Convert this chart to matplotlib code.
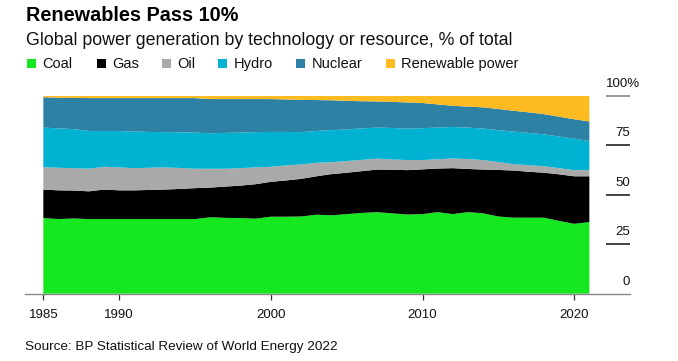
import matplotlib
matplotlib.use("Agg")
import matplotlib.pyplot as plt
from matplotlib.patches import Rectangle

plt.rcParams['font.family'] = ['Liberation Sans', 'DejaVu Sans']

# DATA: share of global power generation, % of total
years = list(range(1985, 2022))
coal = [38.2, 37.7, 38.0, 37.7, 37.7, 37.7, 37.7, 37.7, 37.7, 37.7,
        37.7, 38.6, 38.3, 38.2, 37.9, 38.9, 38.9, 39.0, 39.9, 39.6,
        40.2, 40.8, 41.2, 40.6, 40.0, 40.2, 41.2, 40.2, 41.2, 40.6,
        39.0, 38.4, 38.4, 38.4, 36.8, 35.3, 36.2]
gas = [14.4, 14.5, 14.1, 14.0, 14.9, 14.5, 14.5, 14.7, 14.9, 15.2,
       15.6, 15.0, 15.8, 16.4, 17.4, 17.6, 18.3, 19.0, 19.4, 20.8,
       20.9, 21.1, 21.5, 22.0, 22.4, 22.6, 22.0, 23.2, 21.8, 22.1,
       23.5, 23.8, 23.2, 22.7, 23.5, 24.0, 23.1]
oil = [11.3, 11.4, 11.3, 11.4, 11.5, 11.6, 11.2, 11.2, 11.2, 10.6,
       9.8, 9.5, 9.0, 8.8, 8.5, 7.6, 7.6, 7.3, 6.8, 6.0,
       5.9, 5.7, 5.5, 5.2, 5.1, 4.7, 4.7, 4.9, 5.0, 4.8,
       4.0, 3.2, 3.3, 3.3, 3.1, 3.1, 3.1]
hydro = [20.0, 19.9, 19.7, 19.1, 18.1, 18.4, 18.5, 18.1, 17.8, 18.0,
         18.3, 17.9, 18.1, 18.0, 17.8, 17.6, 16.9, 16.3, 16.1, 16.2,
         16.0, 15.9, 15.7, 15.9, 15.9, 16.1, 16.0, 15.9, 15.9, 15.9,
         16.1, 16.5, 16.3, 16.1, 16.0, 15.9, 14.7]
nuclear = [15.3, 15.5, 15.8, 16.6, 16.6, 16.6, 16.9, 17.1, 17.2, 17.3,
           17.4, 17.3, 17.1, 16.9, 16.7, 16.6, 16.4, 16.3, 15.6, 15.1,
           14.4, 13.7, 13.2, 13.2, 13.2, 12.7, 11.7, 10.7, 10.6, 10.7,
           10.7, 10.5, 10.4, 10.2, 10.0, 9.8, 9.9]
renewable = [0.8, 1.0, 1.1, 1.2, 1.2, 1.2, 1.2, 1.2, 1.2, 1.2,
             1.2, 1.7, 1.7, 1.7, 1.7, 1.7, 1.9, 2.1, 2.2, 2.3,
             2.6, 2.8, 2.9, 3.1, 3.4, 3.7, 4.4, 5.1, 5.5, 5.9,
             6.7, 7.6, 8.4, 9.3, 10.6, 11.9, 13.0]

labels = ["Coal", "Gas", "Oil", "Hydro", "Nuclear", "Renewable power"]
colors = ["#15e81f", "#000000", "#a9a9a9", "#00b2d1", "#2d81a5", "#fdbb21"]
xticks = [1985, 1990, 2000, 2010, 2020]
yticks = [0, 25, 50, 75, 100]

W, H = 678, 361
fig = plt.figure(figsize=(W / 100, H / 100), dpi=100)

# axes placed in pixel terms
ax = fig.add_axes([25 / W, (H - 293.7) / H, (630 - 25) / W, (293.7 - 95.7) / H])
ax.stackplot(years, coal, gas, oil, hydro, nuclear, renewable,
             colors=colors, linewidth=0)
ax.set_xlim(1983.79, 2023.68)
ax.set_ylim(0, 100)

for s in ["top", "left", "right"]:
    ax.spines[s].set_visible(False)
ax.spines["bottom"].set_color("#888888")
ax.spines["bottom"].set_linewidth(1.0)

ax.set_xticks(xticks)
ax.set_xticklabels([str(t) for t in xticks])
ax.tick_params(axis="x", direction="out", length=4, width=0.9, color="#333333",
               pad=7, labelsize=9.5, labelcolor="#111111")
ax.set_yticks([])

# right-hand y labels sitting above short tick lines
x0, x1 = 2022.09, 2023.68
for v in yticks:
    if v > 0:
        ax.plot([x0, x1], [v, v], color="#888888" if v == 100 else "#222222",
                lw=1.2, clip_on=False, solid_capstyle="butt")
    if v == 100:
        ax.text(x0, v + 4.5, "100%", ha="left", va="baseline",
                fontsize=9.5, color="#111111", clip_on=False)
    else:
        ax.text(x1, v + 4.5, str(v), ha="right", va="baseline",
                fontsize=9.5, color="#111111", clip_on=False)

# title block
fig.text(26 / W, 1 - 20.7 / H, "Renewables Pass 10%", fontsize=14.3,
         fontweight="bold", va="baseline", ha="left")
fig.text(26 / W, 1 - 45 / H,
         "Global power generation by technology or resource, % of total",
         fontsize=12.8, va="baseline", ha="left", color="#111111")

# legend
leg_x = [27.3, 96.7, 161.7, 218.3, 296, 386]
for lx, lab, c in zip(leg_x, labels, colors):
    fig.add_artist(Rectangle((lx / W, 1 - 68 / H), 9 / W, 9 / H,
                             transform=fig.transFigure, color=c, lw=0))
    fig.text((lx + 15.4) / W, 1 - 68.3 / H, lab, fontsize=10.5,
             va="baseline", ha="left", color="#111111")

fig.text(25 / W, 1 - 350 / H, "Source: BP Statistical Review of World Energy 2022",
         fontsize=9.7, va="baseline", ha="left", color="#111111")

fig.savefig("out.png", dpi=100)
